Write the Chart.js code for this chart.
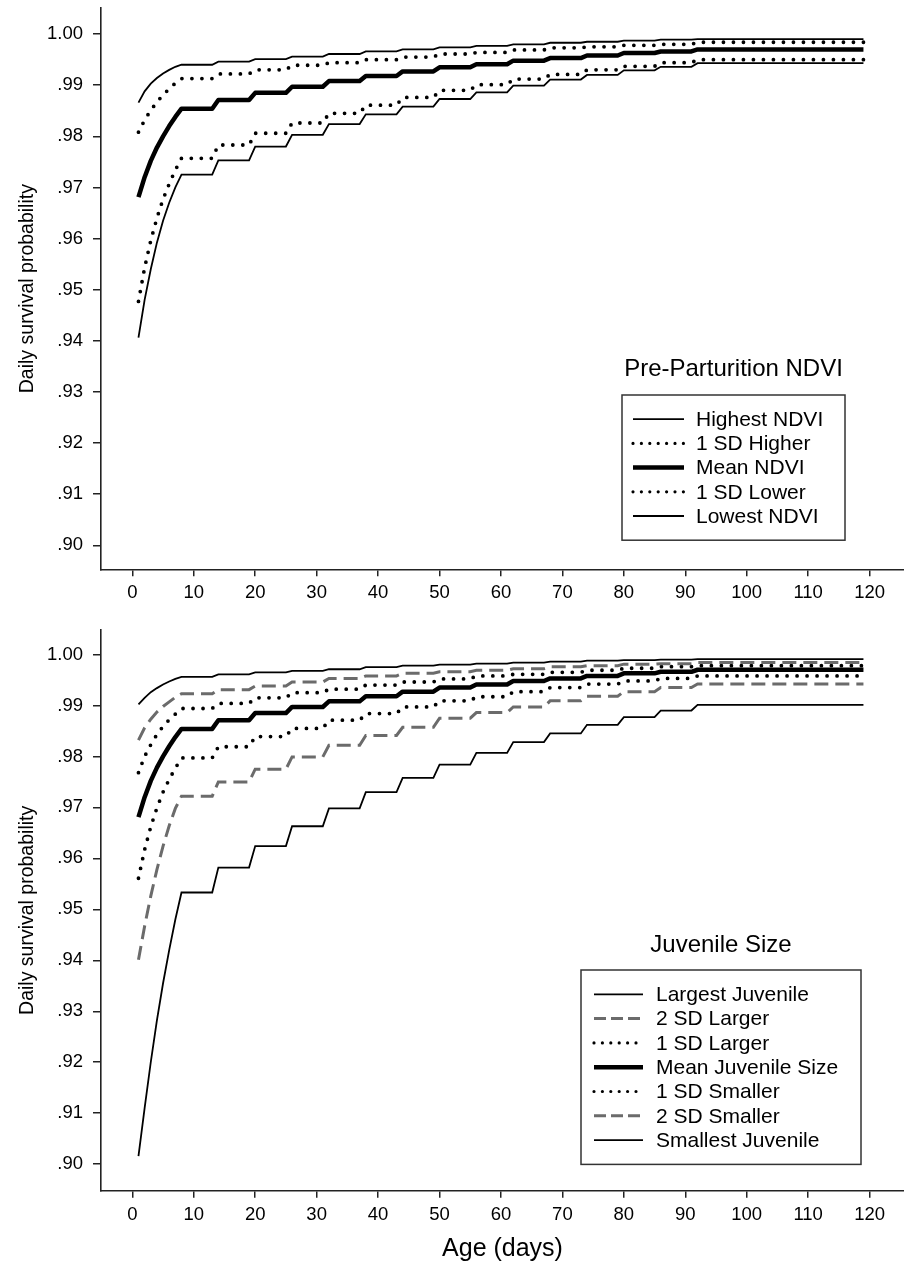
<!DOCTYPE html>
<html>
<head>
<meta charset="utf-8">
<title>Daily survival probability by age</title>
<script src="https://cdn.jsdelivr.net/npm/chart.js@4"></script>
<style>
  html, body { margin: 0; padding: 0; background: #fff; }
  canvas { display: block; }
</style>
</head>
<body>
<canvas id="ndviChart" width="904" height="620"></canvas>
<canvas id="sizeChart" width="904" height="644"></canvas>
<script>
// ages: daily values for the first week, then a new level every 6 days
const curveDays = [1, 2, 3, 4, 5, 6, 7];
const stepDays = [8, 14, 20, 26, 32, 38, 44, 50, 56, 62, 68, 74, 80, 86, 92];
const lastDay = 119;

const xTicks = [0, 10, 20, 30, 40, 50, 60, 70, 80, 90, 100, 110, 120];
const yTicks = [0.90, 0.91, 0.92, 0.93, 0.94, 0.95, 0.96, 0.97, 0.98, 0.99, 1.00];

// mean curve is the same in both panels
const meanCurve = [0.9681, 0.9720, 0.9752, 0.9778, 0.9800, 0.9820, 0.9838];
const meanSteps = [0.9854, 0.9871, 0.9885, 0.9897, 0.9908, 0.9918, 0.9927, 0.9935, 0.9941, 0.9948, 0.9953, 0.9958, 0.9963, 0.9966, 0.9970];

// Pre-parturition NDVI
const highestNdviCurve = [0.9866, 0.9888, 0.9903, 0.9914, 0.9923, 0.9930, 0.9936];
const highestNdviSteps = [0.9940, 0.9946, 0.9951, 0.9956, 0.9961, 0.9966, 0.9970, 0.9974, 0.9977, 0.9980, 0.9983, 0.9985, 0.9987, 0.9989, 0.9990];
const sdHigherCurve = [0.9808, 0.9832, 0.9851, 0.9867, 0.9881, 0.9893, 0.9904];
const sdHigherSteps = [0.9913, 0.9922, 0.9930, 0.9939, 0.9944, 0.9950, 0.9955, 0.9961, 0.9964, 0.9969, 0.9973, 0.9975, 0.9978, 0.9980, 0.9984];
const sdLowerCurve = [0.9477, 0.9543, 0.9596, 0.9640, 0.9677, 0.9707, 0.9734];
const sdLowerSteps = [0.9757, 0.9783, 0.9806, 0.9826, 0.9845, 0.9861, 0.9876, 0.9890, 0.9901, 0.9912, 0.9921, 0.9930, 0.9937, 0.9944, 0.9950];
const lowestNdviCurve = [0.9406, 0.9480, 0.9540, 0.9592, 0.9635, 0.9670, 0.9700];
const lowestNdviSteps = [0.9725, 0.9753, 0.9780, 0.9803, 0.9824, 0.9843, 0.9858, 0.9873, 0.9886, 0.9899, 0.9911, 0.9920, 0.9929, 0.9936, 0.9943];

// Juvenile size
const largestCurve = [0.9902, 0.9915, 0.9926, 0.9934, 0.9941, 0.9947, 0.9952];
const largestSteps = [0.9956, 0.9961, 0.9965, 0.9968, 0.9971, 0.9975, 0.9978, 0.9980, 0.9982, 0.9984, 0.9986, 0.9988, 0.9989, 0.9990, 0.9991];
const sd2LargerCurve = [0.9832, 0.9856, 0.9873, 0.9887, 0.9898, 0.9907, 0.9916];
const sd2LargerSteps = [0.9923, 0.9931, 0.9938, 0.9946, 0.9953, 0.9958, 0.9963, 0.9966, 0.9969, 0.9972, 0.9976, 0.9978, 0.9981, 0.9982, 0.9984];
const sd1LargerCurve = [0.9768, 0.9800, 0.9823, 0.9843, 0.9859, 0.9872, 0.9883];
const sd1LargerSteps = [0.9894, 0.9904, 0.9915, 0.9925, 0.9932, 0.9940, 0.9946, 0.9952, 0.9958, 0.9961, 0.9965, 0.9969, 0.9973, 0.9976, 0.9978];
const sd1SmallerCurve = [0.9561, 0.9617, 0.9662, 0.9699, 0.9730, 0.9755, 0.9777];
const sd1SmallerSteps = [0.9797, 0.9819, 0.9839, 0.9855, 0.9871, 0.9884, 0.9897, 0.9909, 0.9917, 0.9927, 0.9935, 0.9942, 0.9948, 0.9953, 0.9958];
const sd2SmallerCurve = [0.9401, 0.9467, 0.9526, 0.9578, 0.9624, 0.9664, 0.9698];
const sd2SmallerSteps = [0.9722, 0.9750, 0.9775, 0.9799, 0.9822, 0.9841, 0.9857, 0.9875, 0.9886, 0.9897, 0.9909, 0.9918, 0.9927, 0.9935, 0.9942];
const smallestCurve = [0.9016, 0.9110, 0.9200, 0.9282, 0.9355, 0.9420, 0.9480];
const smallestSteps = [0.9533, 0.9582, 0.9624, 0.9663, 0.9698, 0.9730, 0.9758, 0.9784, 0.9807, 0.9828, 0.9845, 0.9862, 0.9877, 0.9890, 0.9901];

const FONT = '"Liberation Sans", Arial, Helvetica, sans-serif';

// each level holds from its start day until the day before the next one
function buildSeries(curve, steps) {
  const pts = curveDays.map((d, i) => ({ x: d, y: curve[i] }));
  steps.forEach((v, i) => {
    const end = i < steps.length - 1 ? stepDays[i + 1] - 1 : lastDay;
    pts.push({ x: stepDays[i], y: v });
    pts.push({ x: end, y: v });
  });
  return pts;
}

const thin = { borderColor: '#000', borderWidth: 1.8 };
const thick = { borderColor: '#000', borderWidth: 4.5, borderJoinStyle: 'round' };
const dotted = { borderColor: '#000', borderWidth: 3.8, borderDash: [0, 10], borderCapStyle: 'round', legendWidth: 3.2, legendDash: [0, 8.4] };
const dashed = { borderColor: '#6b6b6b', borderWidth: 3, borderDash: [14, 7], legendDash: [12, 5] };

function line(label, curve, steps, style) {
  return Object.assign({ label: label, data: buildSeries(curve, steps), pointRadius: 0, tension: 0, fill: false }, style);
}

// legend drawn inside the plot, with a title and a box around the entries
const boxLegend = {
  id: 'boxLegend',
  afterDraw(chart, args, opts) {
    const ctx = chart.ctx;
    const sets = chart.data.datasets;
    const h = opts.rowHeight * (sets.length + 1);
    ctx.save();
    ctx.fillStyle = '#000';
    ctx.font = '24px ' + FONT;
    ctx.textAlign = 'center';
    ctx.textBaseline = 'middle';
    ctx.fillText(opts.title, opts.left + opts.width / 2, opts.top - opts.titleGap);
    ctx.strokeStyle = '#333';
    ctx.lineWidth = 1.5;
    ctx.strokeRect(opts.left, opts.top, opts.width, h);
    ctx.font = '21px ' + FONT;
    ctx.textAlign = 'left';
    sets.forEach(function(ds, i) {
      const y = opts.top + opts.rowHeight * (i + 1);
      ctx.beginPath();
      ctx.strokeStyle = ds.borderColor;
      ctx.lineWidth = ds.legendWidth || ds.borderWidth;
      ctx.setLineDash(ds.legendDash || []);
      ctx.lineCap = ds.borderCapStyle || 'butt';
      ctx.moveTo(opts.left + opts.sampleStart, y);
      ctx.lineTo(opts.left + opts.sampleEnd, y);
      ctx.stroke();
      ctx.setLineDash([]);
      ctx.fillText(ds.label, opts.left + opts.textStart, y + 1);
    });
    ctx.restore();
  }
};

function axes(yMin, yMax, xHeight, xTitle) {
  const tickFont = { family: FONT, size: 18.5 };
  const noPad = function(s) { s.paddingTop = 0; s.paddingBottom = 0; s.paddingLeft = 0; s.paddingRight = 0; };
  return {
    x: {
      type: 'linear',
      min: -5.1,
      max: 125.6,
      afterBuildTicks: function(s) { s.ticks = xTicks.map(v => ({ value: v })); },
      afterFit: function(s) { s.height = xHeight; noPad(s); },
      grid: { display: true, drawOnChartArea: false, drawTicks: true, tickLength: 7, color: '#222', lineWidth: 1.5 },
      border: { display: true, color: '#222', width: 1.6 },
      ticks: { color: '#000', font: tickFont, padding: 6, maxRotation: 0, autoSkip: false, callback: v => String(v) },
      title: { display: !!xTitle, text: xTitle || '', color: '#000', font: { family: FONT, size: 25 }, padding: { top: 0, bottom: 0 } }
    },
    y: {
      type: 'linear',
      min: yMin,
      max: yMax,
      afterBuildTicks: function(s) { s.ticks = yTicks.map(v => ({ value: v })); },
      afterFit: function(s) { s.width = 101; noPad(s); },
      grid: { display: true, drawOnChartArea: false, drawTicks: true, tickLength: 8, color: '#222', lineWidth: 1.5 },
      border: { display: true, color: '#222', width: 1.6 },
      ticks: {
        color: '#000', font: tickFont, padding: 10, autoSkip: false,
        callback: v => (v >= 1 ? v.toFixed(2) : v.toFixed(2).slice(1))
      },
      title: { display: true, text: 'Daily survival probability', color: '#000', font: { family: FONT, size: 19.5 }, padding: { top: 16, bottom: 0 } }
    }
  };
}

new Chart(document.getElementById('ndviChart'), {
  type: 'line',
  data: {
    datasets: [
      line('Highest NDVI', highestNdviCurve, highestNdviSteps, thin),
      line('1 SD Higher', sdHigherCurve, sdHigherSteps, dotted),
      line('Mean NDVI', meanCurve, meanSteps, thick),
      line('1 SD Lower', sdLowerCurve, sdLowerSteps, dotted),
      line('Lowest NDVI', lowestNdviCurve, lowestNdviSteps, thin)
    ]
  },
  options: {
    responsive: false,
    animation: false,
    layout: { padding: { top: 8, left: 0, right: 0, bottom: 0 } },
    scales: axes(0.8953, 1.0051, 50.7, null),
    plugins: {
      legend: { display: false },
      tooltip: { enabled: false },
      boxLegend: { title: 'Pre-Parturition NDVI', left: 622, top: 395, width: 223, rowHeight: 24.2, titleGap: 26, sampleStart: 11, sampleEnd: 62, textStart: 74 }
    }
  },
  plugins: [boxLegend]
});

new Chart(document.getElementById('sizeChart'), {
  type: 'line',
  data: {
    datasets: [
      line('Largest Juvenile', largestCurve, largestSteps, thin),
      line('2 SD Larger', sd2LargerCurve, sd2LargerSteps, dashed),
      line('1 SD Larger', sd1LargerCurve, sd1LargerSteps, dotted),
      line('Mean Juvenile Size', meanCurve, meanSteps, thick),
      line('1 SD Smaller', sd1SmallerCurve, sd1SmallerSteps, dotted),
      line('2 SD Smaller', sd2SmallerCurve, sd2SmallerSteps, dashed),
      line('Smallest Juvenile', smallestCurve, smallestSteps, thin)
    ]
  },
  options: {
    responsive: false,
    animation: false,
    layout: { padding: { top: 10, left: 0, right: 0, bottom: 0 } },
    scales: axes(0.8948, 1.0048, 73.3, 'Age (days)'),
    plugins: {
      legend: { display: false },
      tooltip: { enabled: false },
      boxLegend: { title: 'Juvenile Size', left: 581, top: 350, width: 280, rowHeight: 24.3, titleGap: 25, sampleStart: 13, sampleEnd: 62, textStart: 75 }
    }
  },
  plugins: [boxLegend]
});
</script>
</body>
</html>
